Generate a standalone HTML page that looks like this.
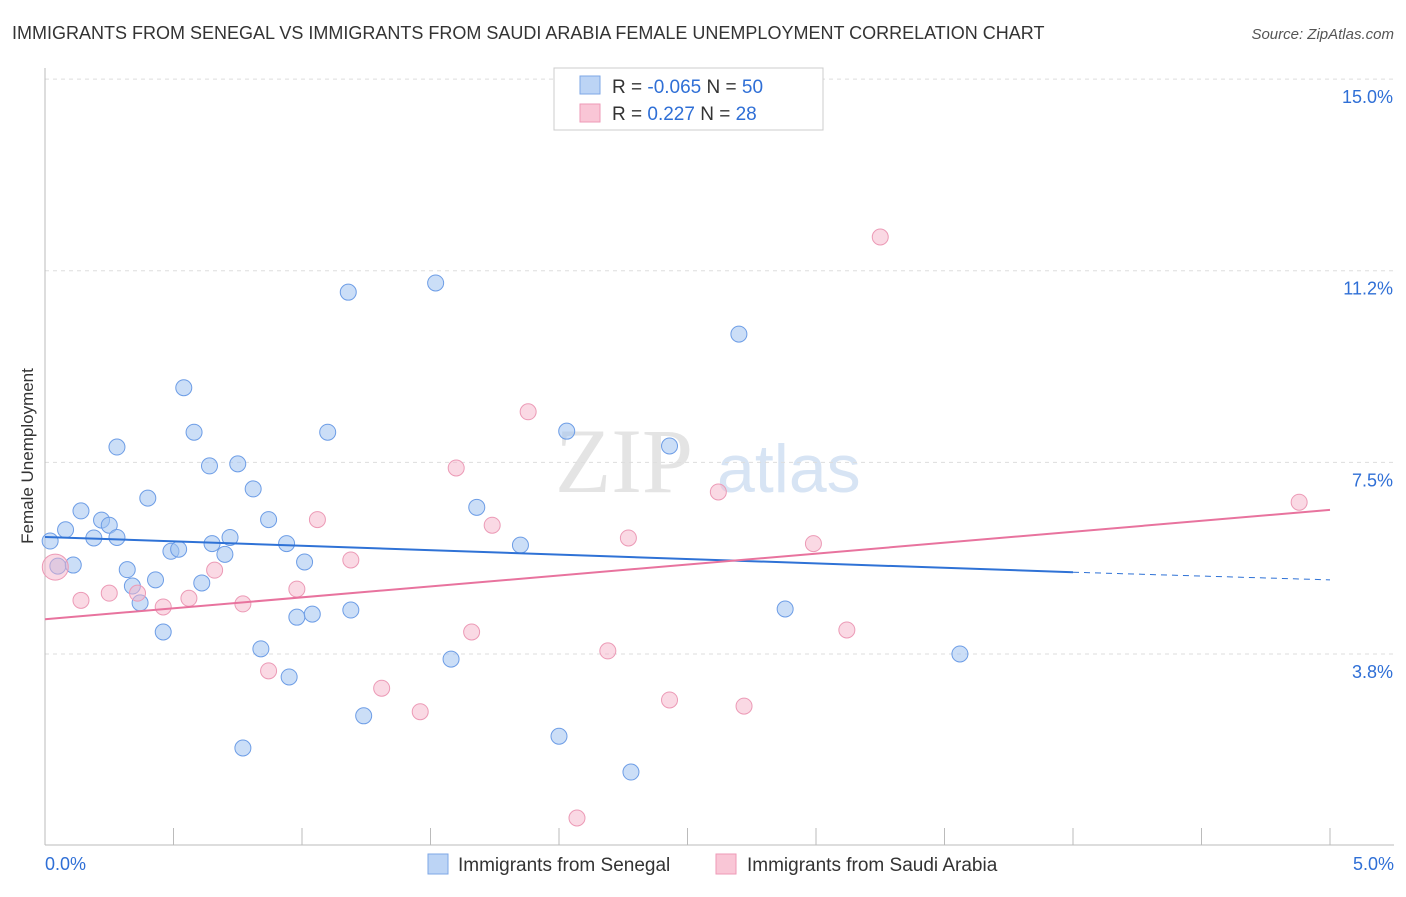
<!DOCTYPE html>
<html><head><meta charset="utf-8"><style>
body{margin:0;background:#fff;font-family:"Liberation Sans",sans-serif;}
</style></head><body>
<svg id="chart" width="1406" height="892" xmlns="http://www.w3.org/2000/svg" font-family="Liberation Sans, sans-serif">
<text x="12" y="39" font-size="18" fill="#333">IMMIGRANTS FROM SENEGAL VS IMMIGRANTS FROM SAUDI ARABIA FEMALE UNEMPLOYMENT CORRELATION CHART</text>
<text x="1394" y="39" font-size="15" fill="#555" text-anchor="end" font-style="italic">Source: ZipAtlas.com</text>
<text transform="translate(33,456) rotate(-90)" font-size="17" fill="#333" text-anchor="middle">Female Unemployment</text>
<g><text x="555" y="492" font-size="92" fill="#e4e4e4" font-family="Liberation Serif, serif">ZIP</text><text x="717" y="492" font-size="68" fill="#d7e4f4">atlas</text></g>
<g id="grid"></g><g id="axes"></g><g id="marks"></g>
<g>
<rect x="554" y="68" width="269" height="62" fill="#fff" stroke="#ccc"/>
<rect x="580" y="76" width="20" height="18" fill="#bcd4f5" stroke="#7ea7e6"/>
<rect x="580" y="104" width="20" height="18" fill="#f9c6d6" stroke="#ee9ab7"/>
<text x="612" y="93" font-size="19" fill="#333">R = <tspan fill="#2f6fd6">-0.065</tspan>   N = <tspan fill="#2f6fd6">50</tspan></text>
<text x="612" y="120" font-size="19" fill="#333">R =   <tspan fill="#2f6fd6">0.227</tspan>   N =  <tspan fill="#2f6fd6">28</tspan></text>
</g>
<g>
<rect x="428" y="854" width="20" height="20" fill="#bcd4f5" stroke="#7ea7e6"/>
<text x="458" y="871" font-size="19" fill="#333">Immigrants from Senegal</text>
<rect x="716" y="854" width="20" height="20" fill="#f9c6d6" stroke="#ee9ab7"/>
<text x="747" y="871" font-size="19" fill="#333">Immigrants from Saudi Arabia</text>
</g>
</svg>
<script>
const yTicks=[15.0,11.25,7.5,3.75];
const yTickLabels=["15.0%","11.2%","7.5%","3.8%"];
const xTickLabels=["0.0%","5.0%"];
const senegalX=[0.02,0.05,0.08,0.11,0.14,0.19,0.22,0.25,0.28,0.32,0.34,0.37,0.40,0.43,0.46,0.49,0.52,0.54,0.58,0.61,0.64,0.65,0.70,0.72,0.75,0.77,0.81,0.84,0.87,0.94,0.95,0.98,1.01,1.04,1.10,1.18,1.19,1.24,1.52,1.58,1.68,1.85,2.00,2.03,2.28,2.43,2.70,2.88,3.56,0.28];
const senegalY=[5.96,5.47,6.18,5.49,6.55,6.02,6.37,6.27,7.80,5.40,5.08,4.75,6.80,5.20,4.18,5.76,5.80,8.96,8.09,5.14,7.43,5.91,5.70,6.03,7.47,1.91,6.98,3.85,6.38,5.91,3.30,4.47,5.55,4.53,8.09,10.83,4.61,2.54,11.01,3.65,6.62,5.88,2.14,8.11,1.44,7.82,10.01,4.63,3.75,6.03];
const saudiX=[0.04,0.14,0.25,0.36,0.46,0.56,0.66,0.77,0.87,0.98,1.06,1.19,1.31,1.46,1.60,1.66,1.74,1.88,2.07,2.19,2.27,2.43,2.62,2.72,2.99,3.12,3.25,4.88];
const saudiY=[5.45,4.80,4.94,4.94,4.67,4.84,5.39,4.73,3.42,5.02,6.38,5.59,3.08,2.62,7.39,4.18,6.27,8.49,0.54,3.81,6.02,2.85,6.92,2.73,5.91,4.22,11.91,6.72];
const senegalTrend=[[0,6.04],[4.0,5.35],[5.0,5.20]];
const saudiTrend=[[0,4.43],[5.0,6.57]];
const NS="http://www.w3.org/2000/svg";
const xs=v=>45+v*257;
const ys=v=>845.6-v*51.1;
function mk(t,a,p){const e=document.createElementNS(NS,t);for(const k in a)e.setAttribute(k,a[k]);document.getElementById(p).appendChild(e);return e;}
yTicks.forEach((t,i)=>{
 const l=mk('line',{x1:45,x2:1394,y1:ys(t),y2:ys(t),stroke:'#ddd','stroke-dasharray':'4,4'},'grid');
 
 
 const tx=mk('text',{x:1393,y:ys(t)+24,'font-size':18,fill:'#2f6fd6','text-anchor':'end'},'axes');
 tx.textContent=yTickLabels[i];
 
 
});
const ax=mk('line',{x1:45,x2:1394,y1:845,y2:845,stroke:'#bbb'},'axes');


const ay=mk('line',{x1:45,x2:45,y1:68,y2:845,stroke:'#bbb'},'axes');


for(let i=0;i<=10;i++){const v=i*0.5;
 const t=mk('line',{x1:xs(v),x2:xs(v),y1:828,y2:845,stroke:'#bbb'},'axes');
 
 
}
[[0,45,'start'],[1,1394,'end']].forEach(([i,x,a])=>{
 const t=mk('text',{x:x,y:870,'font-size':18,fill:'#2f6fd6','text-anchor':a},'axes');
 t.textContent=xTickLabels[i];
 
 
});
senegalX.forEach((x,i)=>{
 const c=mk('circle',{cx:xs(x),cy:ys(senegalY[i]),r:8,fill:'rgba(160,195,240,0.55)',stroke:'#6d9de6','stroke-width':1},'marks');
 
 
});
saudiX.forEach((x,i)=>{
 const c=mk('circle',{cx:xs(x),cy:ys(saudiY[i]),r:i==0?13:8,fill:'rgba(246,180,202,0.5)',stroke:'#ec9ab6','stroke-width':1},'marks');
 
 
});
const b1=mk('line',{x1:xs(senegalTrend[0][0]),y1:ys(senegalTrend[0][1]),x2:xs(senegalTrend[1][0]),y2:ys(senegalTrend[1][1]),stroke:'#2f72d6','stroke-width':2},'marks');


const b2=mk('line',{x1:xs(senegalTrend[1][0]),y1:ys(senegalTrend[1][1]),x2:xs(senegalTrend[2][0]),y2:ys(senegalTrend[2][1]),stroke:'#2f72d6','stroke-width':1,'stroke-dasharray':'6,5'},'marks');


const p1=mk('line',{x1:xs(saudiTrend[0][0]),y1:ys(saudiTrend[0][1]),x2:xs(saudiTrend[1][0]),y2:ys(saudiTrend[1][1]),stroke:'#e8739e','stroke-width':2},'marks');


</script>
</body></html>
